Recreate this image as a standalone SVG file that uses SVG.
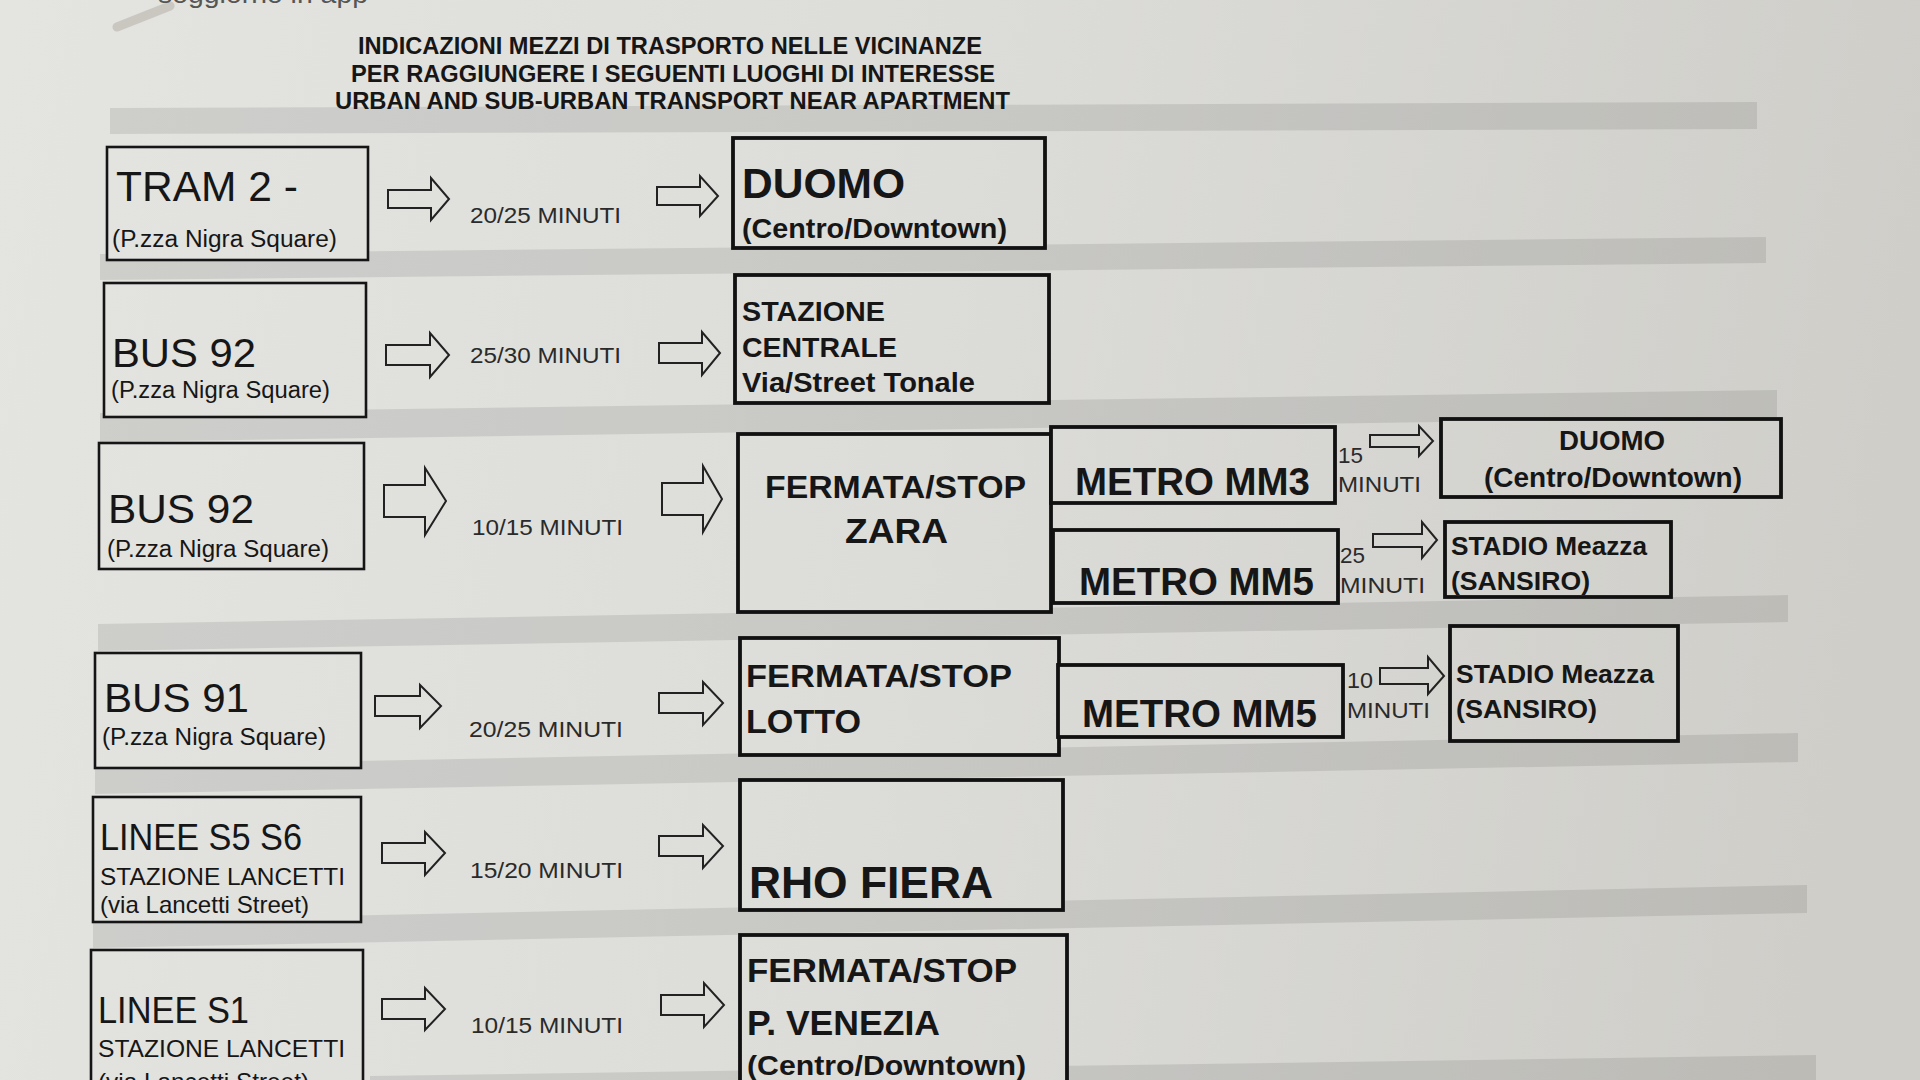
<svg xmlns="http://www.w3.org/2000/svg" width="1920" height="1080" viewBox="0 0 1920 1080">
<defs>
<linearGradient id="paper" gradientUnits="userSpaceOnUse" x1="0" y1="0" x2="1920" y2="300">
<stop offset="0" stop-color="#e4e4e1"/>
<stop offset="0.5" stop-color="#dcdcd9"/>
<stop offset="1" stop-color="#cfcec9"/>
</linearGradient>
<style>
.box{fill:url(#paper);stroke:#151515;stroke-width:2.6}
.bx{fill:url(#paper);stroke:#111;stroke-width:3.8}
.stripe{fill:#000;fill-opacity:0.09}
.arr{fill:url(#paper);stroke:#222;stroke-width:2;stroke-linejoin:miter}
text{font-family:"Liberation Sans",Arial,sans-serif;fill:#161616}
.t{font-weight:bold;font-size:23px}
.big{font-size:41px}
.sub{font-size:23px}
.min{font-size:22px;fill:#2a2a2a}
.b{font-weight:bold}
</style>
</defs>
<rect x="0" y="0" width="1920" height="1080" fill="url(#paper)"/>
<path d="M117,27 L170,6" stroke="#b5b1a7" stroke-width="9" stroke-linecap="round" opacity="0.55"/>
<text x="158" y="3" font-size="26" fill="#555" style="fill:#555" textLength="210" lengthAdjust="spacingAndGlyphs">soggiorno in app</text>

<g id="stripes">
<polygon class="stripe" points="110,108 1757,102 1757,129 110,134"/>
<polygon class="stripe" points="100,254 1766,237 1766,263 100,280"/>
<polygon class="stripe" points="100,413 1777,390 1777,417 100,442"/>
<polygon class="stripe" points="98,624 1788,595 1788,622 98,651"/>
<polygon class="stripe" points="95,766 1798,733 1798,762 95,794"/>
<polygon class="stripe" points="93,921 1807,885 1807,913 93,948"/>
<polygon class="stripe" points="370,1076 1816,1055 1816,1080 370,1080"/>
</g>

<g id="title">
<text class="t" x="358" y="54" textLength="624" lengthAdjust="spacingAndGlyphs">INDICAZIONI MEZZI DI TRASPORTO NELLE VICINANZE</text>
<text class="t" x="351" y="82" textLength="644" lengthAdjust="spacingAndGlyphs">PER RAGGIUNGERE I SEGUENTI LUOGHI DI INTERESSE</text>
<text class="t" x="335" y="109" textLength="675" lengthAdjust="spacingAndGlyphs">URBAN AND SUB-URBAN TRANSPORT NEAR APARTMENT</text>
</g>

<g id="connectors">
<path class="arr" d="M388,190 L431,190 L431,178 L449,199 L431,220 L431,208 L388,208 Z"/>
<path class="arr" d="M657,187 L700,187 L700,176 L718,196 L700,216 L700,205 L657,205 Z"/>
<path class="arr" d="M386,345 L430,345 L430,333 L449,355 L430,377 L430,365 L386,365 Z"/>
<path class="arr" d="M659,343 L702,343 L702,332 L720,353 L702,375 L702,363 L659,363 Z"/>
<path class="arr" d="M384,485 L425,485 L425,468 L446,501 L425,535 L425,517 L384,517 Z"/>
<path class="arr" d="M662,483 L703,483 L703,466 L722,499 L703,532 L703,515 L662,515 Z"/>
<path class="arr" d="M375,696 L420,696 L420,685 L441,706 L420,728 L420,716 L375,716 Z"/>
<path class="arr" d="M659,693 L703,693 L703,682 L723,703 L703,725 L703,713 L659,713 Z"/>
<path class="arr" d="M382,843 L425,843 L425,832 L445,853 L425,875 L425,863 L382,863 Z"/>
<path class="arr" d="M659,836 L703,836 L703,825 L723,846 L703,868 L703,856 L659,856 Z"/>
<path class="arr" d="M382,999 L425,999 L425,988 L445,1009 L425,1030 L425,1019 L382,1019 Z"/>
<path class="arr" d="M661,995 L704,995 L704,983 L724,1005 L704,1027 L704,1015 L661,1015 Z"/>
<path class="arr" d="M1370,435 L1419,435 L1419,426 L1433,441 L1419,456 L1419,447 L1370,447 Z"/>
<path class="arr" d="M1373,534 L1422,534 L1422,522 L1437,540 L1422,558 L1422,547 L1373,547 Z"/>
<path class="arr" d="M1380,668 L1428,668 L1428,657 L1444,676 L1428,694 L1428,684 L1380,684 Z"/>
<text class="min" x="470" y="223" textLength="151" lengthAdjust="spacingAndGlyphs">20/25 MINUTI</text>
<text class="min" x="470" y="363" textLength="151" lengthAdjust="spacingAndGlyphs">25/30 MINUTI</text>
<text class="min" x="472" y="535" textLength="151" lengthAdjust="spacingAndGlyphs">10/15 MINUTI</text>
<text class="min" x="469" y="737" textLength="154" lengthAdjust="spacingAndGlyphs">20/25 MINUTI</text>
<text class="min" x="470" y="878" textLength="153" lengthAdjust="spacingAndGlyphs">15/20 MINUTI</text>
<text class="min" x="471" y="1033" textLength="152" lengthAdjust="spacingAndGlyphs">10/15 MINUTI</text>
<text class="min" x="1338" y="463" textLength="25" lengthAdjust="spacingAndGlyphs">15</text>
<text class="min" x="1338" y="492" textLength="83" lengthAdjust="spacingAndGlyphs">MINUTI</text>
<text class="min" x="1340" y="563" textLength="25" lengthAdjust="spacingAndGlyphs">25</text>
<text class="min" x="1340" y="593" textLength="85" lengthAdjust="spacingAndGlyphs">MINUTI</text>
<text class="min" x="1347" y="688" textLength="26" lengthAdjust="spacingAndGlyphs">10</text>
<text class="min" x="1347" y="718" textLength="83" lengthAdjust="spacingAndGlyphs">MINUTI</text>
</g>

<g id="tram2">
<rect class="box" x="107" y="147" width="261" height="113"/>
<text class="big" x="116" y="201" style="font-size:42px" textLength="182" lengthAdjust="spacingAndGlyphs">TRAM 2 -</text>
<text class="sub" x="112" y="247" textLength="225" lengthAdjust="spacingAndGlyphs">(P.zza  Nigra Square)</text>
</g>
<g id="duomo1">
<rect class="bx" x="733" y="138" width="312" height="110"/>
<text class="b" x="742" y="198" font-size="42" textLength="163" lengthAdjust="spacingAndGlyphs">DUOMO</text>
<text class="b" x="742" y="238" font-size="28" textLength="265" lengthAdjust="spacingAndGlyphs">(Centro/Downtown)</text>
</g>

<g id="bus92a">
<rect class="box" x="104" y="283" width="262" height="134"/>
<text class="big" x="112" y="367" textLength="144" lengthAdjust="spacingAndGlyphs">BUS 92</text>
<text class="sub" x="111" y="398" textLength="219" lengthAdjust="spacingAndGlyphs">(P.zza Nigra Square)</text>
</g>
<g id="centrale">
<rect class="bx" x="735" y="275" width="314" height="128"/>
<text class="b" x="742" y="321" font-size="28" textLength="143" lengthAdjust="spacingAndGlyphs">STAZIONE</text>
<text class="b" x="742" y="357" font-size="28" textLength="155" lengthAdjust="spacingAndGlyphs">CENTRALE</text>
<text class="b" x="742" y="392" font-size="28" textLength="233" lengthAdjust="spacingAndGlyphs">Via/Street Tonale</text>
</g>

<g id="bus92b">
<rect class="box" x="99" y="443" width="265" height="126"/>
<text class="big" x="108" y="523" textLength="146" lengthAdjust="spacingAndGlyphs">BUS 92</text>
<text class="sub" x="107" y="557" textLength="222" lengthAdjust="spacingAndGlyphs">(P.zza Nigra Square)</text>
</g>
<g id="zara">
<rect class="bx" x="738" y="434" width="313" height="178"/>
<text class="b" x="765" y="498" font-size="32" textLength="261" lengthAdjust="spacingAndGlyphs">FERMATA/STOP</text>
<text class="b" x="845" y="543" font-size="35" textLength="103" lengthAdjust="spacingAndGlyphs">ZARA</text>
</g>
<g id="mm3">
<rect class="bx" x="1051" y="427" width="284" height="76"/>
<text class="b" x="1075" y="495" font-size="38" textLength="235" lengthAdjust="spacingAndGlyphs">METRO MM3</text>
</g>
<g id="mm5a">
<rect class="bx" x="1053" y="530" width="285" height="73"/>
<text class="b" x="1079" y="595" font-size="38" textLength="235" lengthAdjust="spacingAndGlyphs">METRO MM5</text>
</g>
<g id="duomo2">
<rect class="bx" x="1441" y="419" width="340" height="78"/>
<text class="b" x="1559" y="450" font-size="27" textLength="106" lengthAdjust="spacingAndGlyphs">DUOMO</text>
<text class="b" x="1484" y="487" font-size="28" textLength="258" lengthAdjust="spacingAndGlyphs">(Centro/Downtown)</text>
</g>
<g id="stadio1">
<rect class="bx" x="1445" y="522" width="226" height="75"/>
<text class="b" x="1451" y="555" font-size="26" textLength="196" lengthAdjust="spacingAndGlyphs">STADIO Meazza</text>
<text class="b" x="1451" y="590" font-size="26" textLength="139" lengthAdjust="spacingAndGlyphs">(SANSIRO)</text>
</g>

<g id="bus91">
<rect class="box" x="95" y="653" width="266" height="115"/>
<text class="big" x="104" y="712" textLength="145" lengthAdjust="spacingAndGlyphs">BUS 91</text>
<text class="sub" x="102" y="745" textLength="224" lengthAdjust="spacingAndGlyphs">(P.zza Nigra Square)</text>
</g>
<g id="lotto">
<rect class="bx" x="740" y="638" width="319" height="117"/>
<text class="b" x="746" y="687" font-size="32" textLength="266" lengthAdjust="spacingAndGlyphs">FERMATA/STOP</text>
<text class="b" x="746" y="733" font-size="33" textLength="115" lengthAdjust="spacingAndGlyphs">LOTTO</text>
</g>
<g id="mm5b">
<rect class="bx" x="1058" y="665" width="285" height="72"/>
<text class="b" x="1082" y="727" font-size="38" textLength="235" lengthAdjust="spacingAndGlyphs">METRO MM5</text>
</g>
<g id="stadio2">
<rect class="bx" x="1450" y="626" width="228" height="115"/>
<text class="b" x="1456" y="683" font-size="26" textLength="198" lengthAdjust="spacingAndGlyphs">STADIO Meazza</text>
<text class="b" x="1456" y="718" font-size="26" textLength="141" lengthAdjust="spacingAndGlyphs">(SANSIRO)</text>
</g>

<g id="lineeS5S6">
<rect class="box" x="93" y="797" width="268" height="125"/>
<text x="100" y="850" font-size="36" textLength="202" lengthAdjust="spacingAndGlyphs">LINEE S5 S6</text>
<text x="100" y="885" font-size="24" textLength="245" lengthAdjust="spacingAndGlyphs">STAZIONE LANCETTI</text>
<text x="100" y="913" font-size="24" textLength="209" lengthAdjust="spacingAndGlyphs">(via Lancetti Street)</text>
</g>
<g id="rhofiera">
<rect class="bx" x="740" y="780" width="323" height="130"/>
<text class="b" x="749" y="898" font-size="45" textLength="244" lengthAdjust="spacingAndGlyphs">RHO FIERA</text>
</g>

<g id="lineeS1">
<rect class="box" x="91" y="950" width="272" height="150"/>
<text x="98" y="1023" font-size="36" textLength="151" lengthAdjust="spacingAndGlyphs">LINEE S1</text>
<text x="98" y="1057" font-size="24" textLength="247" lengthAdjust="spacingAndGlyphs">STAZIONE LANCETTI</text>
<text x="98" y="1090" font-size="24" textLength="211" lengthAdjust="spacingAndGlyphs">(via Lancetti Street)</text>
</g>
<g id="venezia">
<rect class="bx" x="740" y="935" width="327" height="165"/>
<text class="b" x="747" y="982" font-size="33" textLength="270" lengthAdjust="spacingAndGlyphs">FERMATA/STOP</text>
<text class="b" x="747" y="1035" font-size="35" textLength="193" lengthAdjust="spacingAndGlyphs">P. VENEZIA</text>
<text class="b" x="747" y="1075" font-size="28" textLength="279" lengthAdjust="spacingAndGlyphs">(Centro/Downtown)</text>
</g>
</svg>
